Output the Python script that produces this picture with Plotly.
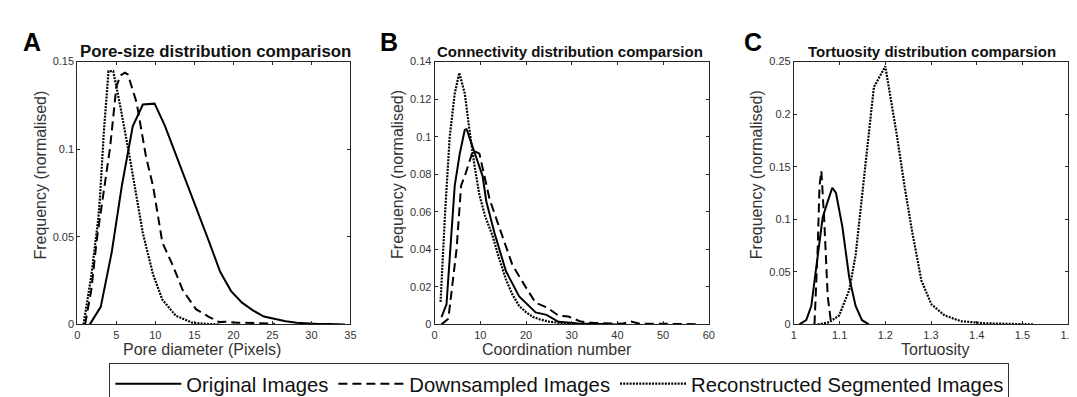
import plotly.graph_objects as go

# ---------------- Data ----------------
# Panel A: pore-size distribution
a_orig_x = [1.6, 3.0, 4.4, 5.7, 7.1, 8.4, 9.9, 11.2, 12.7, 14.1, 15.5, 16.9, 18.3, 19.7, 21.1, 22.5, 23.9, 25.3, 26.7, 28.1, 29.5, 30.9, 32.3, 33.7, 34.3]
a_orig_y = [0.0, 0.010, 0.041, 0.079, 0.113, 0.1255, 0.126, 0.1136, 0.096, 0.080, 0.064, 0.047, 0.030, 0.019, 0.0124, 0.008, 0.0045, 0.003, 0.0018, 0.001, 0.0005, 0.0003, 0.0002, 0.0001, 0.0]

a_down_x = [1.0, 1.8, 2.5, 2.9, 3.5, 4.2, 5.0, 5.5, 6.1, 6.5, 7.6, 8.8, 9.7, 10.1, 10.9, 12.2, 13.5, 15.2, 16.9, 18.2, 19.0, 20.5, 22.0, 23.5, 25.3]
a_down_y = [0.0, 0.020, 0.0485, 0.061, 0.079, 0.101, 0.1355, 0.142, 0.1437, 0.1425, 0.1265, 0.0957, 0.079, 0.0685, 0.0467, 0.034, 0.0196, 0.0087, 0.0042, 0.0013, 0.0015, 0.001, 0.0008, 0.0006, 0.0004]

a_recon_x = [0.8, 1.8, 2.7, 2.9, 3.4, 4.0, 4.6, 5.5, 6.7, 7.6, 8.4, 9.7, 10.9, 12.6, 14.7, 16.5, 18.2]
a_recon_y = [0.0, 0.028, 0.061, 0.072, 0.110, 0.1446, 0.1446, 0.1246, 0.0957, 0.072, 0.052, 0.0286, 0.0141, 0.005, 0.001, 0.0003, 0.0]

# Panel B: connectivity distribution
b_orig_x = [1.5, 2.6, 4.4, 5.5, 6.6, 7.0, 8.4, 10.5, 11.3, 13.1, 15.6, 18.5, 22.1, 24.5, 27.1, 31.5, 35.0, 40.0]
b_orig_y = [0.0039, 0.0107, 0.074, 0.091, 0.1037, 0.104, 0.094, 0.079, 0.0656, 0.0487, 0.0284, 0.0149, 0.0064, 0.0051, 0.0014, 0.0005, 0.0003, 0.0]

b_down_x = [1.5, 3.0, 4.8, 5.8, 6.6, 8.4, 9.8, 12.0, 14.1, 17.0, 19.9, 22.1, 24.6, 27.1, 29.3, 32.0, 35.0, 38.0, 41.0, 43.0, 45.0, 48.0, 52.0, 57.5]
b_down_y = [0.0, 0.003, 0.040, 0.074, 0.079, 0.0927, 0.091, 0.067, 0.052, 0.0318, 0.020, 0.0115, 0.009, 0.0047, 0.0042, 0.0015, 0.0008, 0.0006, 0.0004, 0.0015, 0.0003, 0.0004, 0.0002, 0.0001]

b_recon_x = [1.3, 2.3, 3.3, 4.4, 5.4, 6.6, 7.6, 8.7, 9.8, 11.0, 12.7, 14.0, 15.6, 17.0, 18.5, 20.0, 21.5, 23.0, 25.0, 27.0, 29.0, 31.0]
b_recon_y = [0.012, 0.060, 0.100, 0.123, 0.134, 0.123, 0.104, 0.085, 0.069, 0.058, 0.047, 0.036, 0.024, 0.016, 0.0098, 0.0065, 0.004, 0.0027, 0.0015, 0.0007, 0.0003, 0.0001]

# Panel C: tortuosity distribution
c_orig_x = [1.012, 1.027, 1.038, 1.048, 1.063, 1.074, 1.084, 1.092, 1.106, 1.121, 1.135, 1.149, 1.164]
c_orig_y = [0.0, 0.004, 0.0175, 0.0507, 0.102, 0.117, 0.130, 0.125, 0.093, 0.0447, 0.0175, 0.004, 0.0]

c_down_x = [1.045, 1.052, 1.056, 1.060, 1.066, 1.074, 1.081]
c_down_y = [0.0, 0.072, 0.132, 0.146, 0.102, 0.0265, 0.0025]

c_recon_x = [1.052, 1.077, 1.099, 1.121, 1.135, 1.149, 1.175, 1.200, 1.225, 1.243, 1.258, 1.279, 1.301, 1.330, 1.366, 1.420, 1.470, 1.523]
c_recon_y = [0.0, 0.002, 0.0085, 0.0326, 0.0658, 0.123, 0.2258, 0.2455, 0.1805, 0.129, 0.090, 0.0417, 0.019, 0.0085, 0.003, 0.001, 0.0004, 0.0]

series_names = ["Original Images", "Downsampled Images", "Reconstructed Segmented Images"]
panel_titles = ["Pore-size distribution comparison", "Connectivity distribution comparsion", "Tortuosity distribution comparsion"]
panel_letters = ["A", "B", "C"]
x_titles = ["Pore diameter (Pixels)", "Coordination number", "Tortuosity"]
y_title = "Frequency (normalised)"

a_xticks = [0, 5, 10, 15, 20, 25, 30, 35]
a_yticks = [0, 0.05, 0.1, 0.15]
a_ytext = ["0", "0.05", "0.1", "0.15"]
b_xticks = [0, 10, 20, 30, 40, 50, 60]
b_yticks = [0, 0.02, 0.04, 0.06, 0.08, 0.1, 0.12, 0.14]
b_ytext = ["0", "0.02", "0.04", "0.06", "0.08", "0.1", "0.12", "0.14"]
c_xticks = [1, 1.1, 1.2, 1.3, 1.4, 1.5, 1.6]
c_xtext = ["1", "1.1", "1.2", "1.3", "1.4", "1.5", "1.6"]
c_yticks = [0, 0.05, 0.1, 0.15, 0.2, 0.25]
c_ytext = ["0", "0.05", "0.1", "0.15", "0.2", "0.25"]

# ---------------- Figure ----------------
W, H = 1077, 397
FONT = "Liberation Sans, Arial, sans-serif"
AX = "#262626"
TXT = "#333333"
dashes = ["solid", "9px,5px", "2px,1.2px"]
widths = [2, 2, 2.2]

fig = go.Figure()

panels = [
    ([(a_orig_x, a_orig_y), (a_down_x, a_down_y), (a_recon_x, a_recon_y)], "x", "y"),
    ([(b_orig_x, b_orig_y), (b_down_x, b_down_y), (b_recon_x, b_recon_y)], "x2", "y2"),
    ([(c_orig_x, c_orig_y), (c_down_x, c_down_y), (c_recon_x, c_recon_y)], "x3", "y3"),
]
for pi, (data, xa, ya) in enumerate(panels):
    for si, (xs, ys) in enumerate(data):
        fig.add_trace(go.Scatter(
            x=xs, y=ys, mode="lines", xaxis=xa, yaxis=ya,
            name=series_names[si], showlegend=(pi == 0),
            line=dict(color="black", width=widths[si], dash=dashes[si]),
        ))

# pixel geometry
xdom = [(67, 343), (428, 705), (791, 1068)]
ytop, ybot = 50, 326
ydom = [(H - ybot) / H, (H - ytop) / H]

common_axis = dict(showline=True, linecolor=AX, linewidth=1, mirror="ticks",
                   ticks="inside", ticklen=3, tickcolor=AX, showgrid=False,
                   zeroline=False, tickfont=dict(family=FONT, size=11, color=TXT))

xranges = [[0, 35], [0, 60], [1, 1.6]]
yranges = [[0, 0.15], [0, 0.14], [0, 0.25]]
xt = [(a_xticks, [str(v) for v in a_xticks]), (b_xticks, [str(v) for v in b_xticks]), (c_xticks, c_xtext)]
yt = [(a_yticks, a_ytext), (b_yticks, b_ytext), (c_yticks, c_ytext)]

title_cx = [207, 565, 930]
title_size = [16.8, 15, 15]
xtitle_cx = [193, 552, 934]
ytitle_cx = [30, 391, 754]
letter_cx = [21, 382, 750]

for i in range(3):
    sx = "" if i == 0 else str(i + 1)
    fig.layout["xaxis" + sx] = dict(
        common_axis, domain=[xdom[i][0] / W, xdom[i][1] / W], range=xranges[i],
        anchor="y" + sx, tickvals=xt[i][0], ticktext=xt[i][1],
    )
    fig.layout["yaxis" + sx] = dict(
        common_axis, domain=ydom, range=yranges[i], anchor="x" + sx,
        tickvals=yt[i][0], ticktext=yt[i][1],
    )
    fig.add_annotation(x=title_cx[i] / W, y=(H - 39) / H, xref="paper", yref="paper",
                       text="<b>" + panel_titles[i] + "</b>", showarrow=False,
                       font=dict(family=FONT, size=title_size[i], color="#111"), xanchor="center", yanchor="middle")
    fig.add_annotation(x=letter_cx[i] / W, y=(H - 29) / H, xref="paper", yref="paper",
                       text="<b>" + panel_letters[i] + "</b>", showarrow=False,
                       font=dict(family=FONT, size=25, color="black"), xanchor="center", yanchor="middle")
    fig.add_annotation(x=xtitle_cx[i] / W, y=(H - 352) / H, xref="paper", yref="paper",
                       text=x_titles[i], showarrow=False,
                       font=dict(family=FONT, size=16, color=TXT), xanchor="center", yanchor="middle")
    fig.add_annotation(x=ytitle_cx[i] / W, y=(H - 169) / H, xref="paper", yref="paper",
                       text=y_title, showarrow=False, textangle=-90,
                       font=dict(family=FONT, size=16, color=TXT), xanchor="center", yanchor="middle")

fig.update_layout(
    width=W, height=H, margin=dict(l=0, r=0, t=0, b=0),
    paper_bgcolor="white", plot_bgcolor="white",
    showlegend=True,
    legend=dict(orientation="h", x=554 / W, xanchor="center", y=(H - 367) / H, yanchor="top",
                bordercolor="#333", borderwidth=1, bgcolor="white",
                font=dict(family=FONT, size=20.3, color="#111"), itemwidth=66,
                tracegroupgap=0),
)

fig.write_html("out.html")
